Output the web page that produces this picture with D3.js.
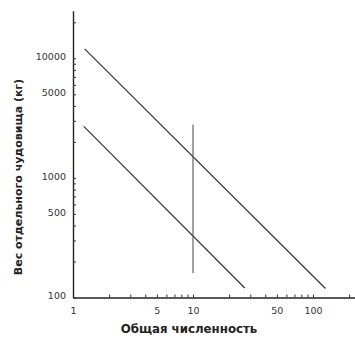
<!DOCTYPE html>
<html>
<head>
<meta charset="utf-8">
<script src="https://cdn.jsdelivr.net/npm/d3@7"></script>
<style>
  body { margin: 0; background: #fff; }
  svg { display: block; }
  .tick text { font-family: "DejaVu Sans", sans-serif; font-size: 9.5px; fill: #333; }
  .title { font-family: "DejaVu Sans", sans-serif; font-weight: bold; font-size: 11px; fill: #222; }
</style>
</head>
<body>
<div id="chart"></div>
<script>
// data
const xTicks = [1, 2, 3, 4, 5, 6, 7, 8, 9, 10, 20, 30, 40, 50, 60, 70, 80, 90, 100, 200];
const xLabels = [1, 5, 10, 50, 100];
const yTicks = [100, 200, 300, 400, 500, 600, 700, 800, 900, 1000,
  2000, 3000, 4000, 5000, 6000, 7000, 8000, 9000, 10000, 20000];
const yLabels = [100, 500, 1000, 5000, 10000];
const upperLine = [[1.25, 12000], [127, 119]];
const lowerLine = [[1.23, 2700], [27, 120]];
const cutLine = [[10, 2800], [10, 160]];

const width = 355, height = 338;
const decade = 120;
const x0 = 73, y0 = 297.5;

const svg = d3.select('#chart').append('svg')
  .attr('width', width)
  .attr('height', height);

const x = d3.scaleLog().domain([1, 225]).range([x0, x0 + decade * Math.log10(225)]);
const y = d3.scaleLog().domain([100, 25000]).range([y0, y0 - 119.6 * Math.log10(250)]);

const fmt = d => xLabels.includes(d) ? String(d) : '';
const fmtY = d => yLabels.includes(d) ? String(d) : '';

const gx = svg.append('g')
  .attr('transform', `translate(0,${y0})`)
  .call(d3.axisBottom(x).tickValues(xTicks).tickFormat(fmt).tickSize(-3).tickSizeOuter(0).tickPadding(10));

const gy = svg.append('g')
  .attr('transform', `translate(${x0},0)`)
  .call(d3.axisLeft(y).tickValues(yTicks).tickFormat(fmtY).tickSize(-3).tickSizeOuter(0).tickPadding(7));

gy.selectAll('.tick text').attr('dy', '0.12em');

[gx, gy].forEach(g => {
  g.select('.domain').attr('stroke', '#222').attr('stroke-width', 1.4);
  g.selectAll('.tick line').attr('stroke', '#333').attr('stroke-width', 1);
});

const line = d3.line().x(d => x(d[0])).y(d => y(d[1]));

svg.append('path')
  .datum(upperLine)
  .attr('d', line)
  .attr('fill', 'none')
  .attr('stroke', '#333')
  .attr('stroke-width', 1.2);

svg.append('path')
  .datum(lowerLine)
  .attr('d', line)
  .attr('fill', 'none')
  .attr('stroke', '#333')
  .attr('stroke-width', 1.2);

svg.append('path')
  .datum(cutLine)
  .attr('d', line)
  .attr('fill', 'none')
  .attr('stroke', '#555')
  .attr('stroke-width', 1.1);

svg.append('text')
  .attr('class', 'title')
  .attr('x', 189)
  .attr('y', 333)
  .attr('text-anchor', 'middle')
  .style('font-size', '11.8px')
  .text('Общая численность');

svg.append('text')
  .attr('class', 'title')
  .attr('transform', 'translate(22,177) rotate(-90)')
  .attr('text-anchor', 'middle')
  .text('Вес отдельного чудовища (кг)');
</script>
</body>
</html>
